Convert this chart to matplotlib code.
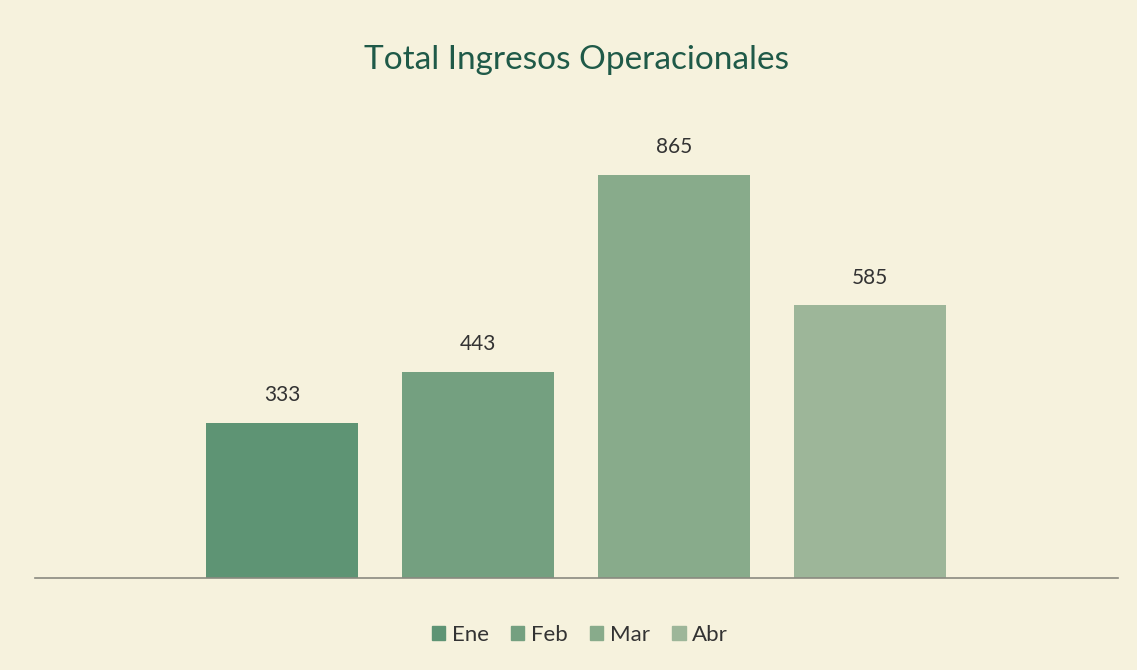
import matplotlib
matplotlib.use("Agg")
import matplotlib.pyplot as plt
import numpy as np

series = ["Ene", "Feb", "Mar", "Abr"]
values = [333, 443, 865, 585]
colors = ["#5e9474", "#74a080", "#88ab8b", "#9db699"]
title = "Total Ingresos Operacionales"

W, H = 1137, 670
fig = plt.figure(figsize=(W / 100, H / 100), dpi=100)
bg = "#f6f2dd"
fig.patch.set_facecolor(bg)

ax = fig.add_axes([35 / W, (H - 578) / H, (1118 - 35) / W, (578 - 100) / H])
ax.set_facecolor(bg)
x = np.arange(len(series))
bars = ax.bar(x, values, width=0.78, color=colors, label=series, zorder=2)
for xi, v in zip(x, values):
    ax.text(xi, v + 38, str(v), ha="center", va="bottom", fontsize=15,
            color="#333333", family="Lato")
ax.set_xlim(-1.26, 4.265)
ax.set_ylim(0, 1026)
for s in ["top", "right", "left"]:
    ax.spines[s].set_visible(False)
ax.spines["bottom"].set_color("#8a8a80")
ax.spines["bottom"].set_linewidth(1.2)
ax.set_xticks([])
ax.set_yticks([])

fig.text(577 / W, 1 - 60 / H, title, ha="center", va="center", fontsize=24,
         color="#1f5a48", family="Lato")

handles = [plt.Rectangle((0, 0), 1, 1, color=c) for c in colors]
leg = fig.legend(handles, series, loc="center", bbox_to_anchor=(580 / W, 1 - 635 / H),
                 ncol=4, frameon=False, handlelength=0.6, handleheight=0.6,
                 handletextpad=0.3, columnspacing=1.0, prop={"family": "Lato", "size": 16})
for t in leg.get_texts():
    t.set_color("#333333")

fig.savefig("out.png", dpi=100, facecolor=bg)
